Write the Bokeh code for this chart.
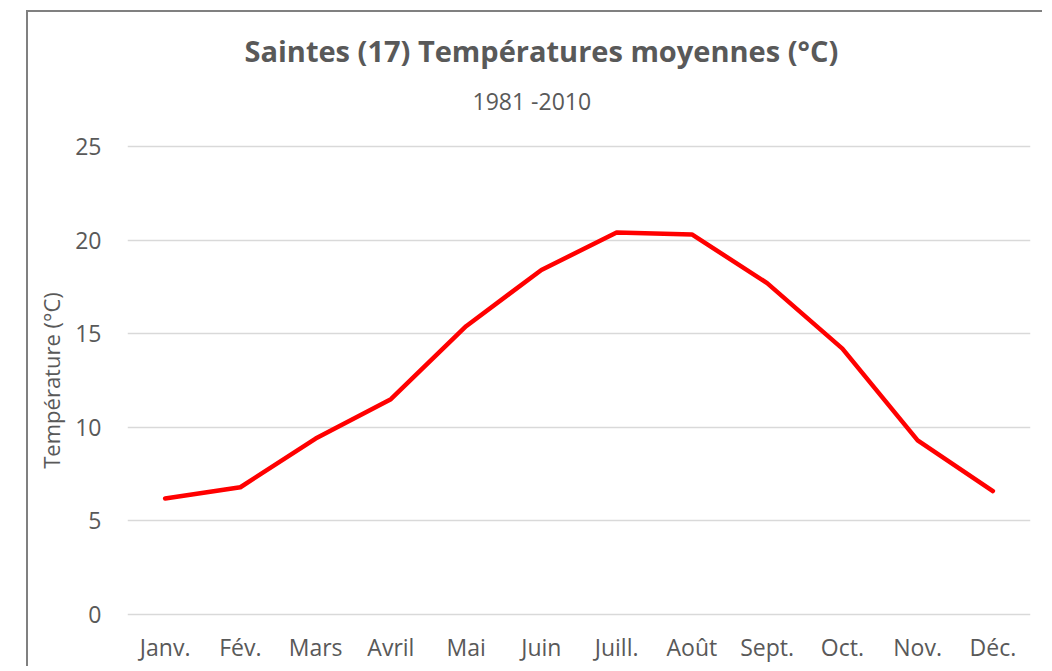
from bokeh.plotting import figure
from bokeh.models import Title, FixedTicker, Range1d
from bokeh.embed import file_html
from bokeh.resources import INLINE

months = ["Janv.", "Fév.", "Mars", "Avril", "Mai", "Juin", "Juill.", "Août", "Sept.", "Oct.", "Nov.", "Déc."]
temps = [6.2, 6.8, 9.4, 11.5, 15.4, 18.4, 20.4, 20.3, 17.7, 14.2, 9.3, 6.6]
y_ticks = [0, 5, 10, 15, 20, 25]
title_text = "Saintes (17) Températures moyennes (°C)"
subtitle_text = "1981 -2010"
y_label = "Température (°C)"

FONT = "Open Sans"
GREY = "#595959"

xs = list(range(len(months)))

p = figure(width=1016, height=656, output_backend="svg", toolbar_location=None,
           x_range=Range1d(-0.5, len(months) - 0.5), y_range=Range1d(-0.1, 25.1),
           min_border_left=99, min_border_right=14, min_border_top=132, min_border_bottom=52,
           styles={"margin-left": "26px", "margin-top": "10px",
                   "border-left": "2px solid #808080", "border-top": "2px solid #808080"})
p.outline_line_color = None
p.background_fill_color = "white"
p.border_fill_color = "white"

p.line(xs, temps, line_color="#FF0000", line_width=4.5, line_join="round", line_cap="round")

p.xaxis.ticker = FixedTicker(ticks=xs)
p.xaxis.major_label_overrides = {i: m for i, m in enumerate(months)}
p.yaxis.ticker = FixedTicker(ticks=y_ticks)

for ax in (p.xaxis[0], p.yaxis[0]):
    ax.axis_line_color = None
    ax.major_tick_line_color = None
    ax.minor_tick_line_color = None
    ax.major_label_text_font = FONT
    ax.major_label_text_font_size = "23px"
    ax.major_label_text_color = GREY

p.xaxis.major_label_standoff = 8
p.yaxis.major_label_standoff = 20
p.yaxis.axis_label = y_label
p.yaxis.axis_label_text_font = FONT
p.yaxis.axis_label_text_font_size = "22px"
p.yaxis.axis_label_text_font_style = "normal"
p.yaxis.axis_label_text_color = GREY
p.yaxis.axis_label_standoff = 6

p.xgrid.grid_line_color = None
p.ygrid.grid_line_color = "#D9D9D9"
p.ygrid.grid_line_width = 1.5

p.add_layout(Title(text=subtitle_text, align="left", offset=345, standoff=56,
                   text_font=FONT, text_font_size="23px", text_font_style="normal",
                   text_color=GREY), "above")
p.add_layout(Title(text=title_text, align="left", offset=117, standoff=-31,
                   text_font=FONT, text_font_size="29px", text_font_style="bold",
                   text_color=GREY), "above")

open("out.html", "w").write(file_html(p, INLINE))
